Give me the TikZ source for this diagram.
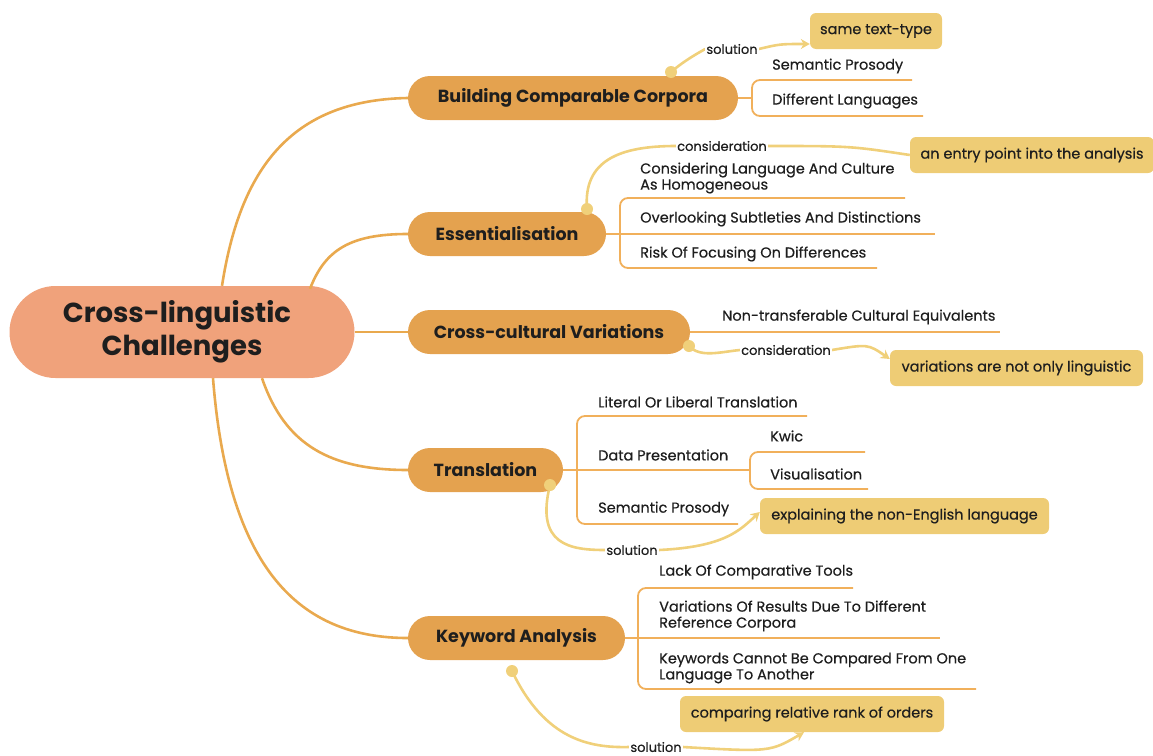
\documentclass[tikz,border=0pt]{standalone}
\usepackage{fontspec}
\setmainfont{Poppins}
\newfontfamily\medfont{Poppins}[FakeBold=0.5]
\usetikzlibrary{arrows.meta,calc}
\pgfdeclarelayer{bg}
\pgfsetlayers{bg,main}
\definecolor{rootc}{HTML}{F0A27B}
\definecolor{brc}{HTML}{E4A24F}
\definecolor{mainl}{HTML}{E9A94E}
\definecolor{subl}{HTML}{F1B05B}
\definecolor{relc}{HTML}{F0D07A}
\definecolor{boxc}{HTML}{EECC75}
\definecolor{ink}{HTML}{1E1E1E}
\tikzset{
  rootnode/.style={fill=rootc, rounded corners=46pt, minimum width=345pt, minimum height=92pt, inner sep=0pt, align=center, text=ink, font=\bfseries\fontsize{27.5}{33}\selectfont},
  branch/.style={fill=brc, rounded corners=22pt, minimum height=44pt, inner sep=0pt, text=ink, font=\bfseries\fontsize{17.5}{20}\selectfont},
  leaf/.style={anchor=west, inner sep=0pt, align=left, text=ink, font=\medfont\fontsize{14.5}{16}\selectfont},
  note/.style={fill=boxc, rounded corners=6pt, minimum height=36pt, inner sep=0pt, text=ink, font=\medfont\fontsize{14.5}{16}\selectfont},
  rel/.style={fill=white, inner sep=1pt, text=ink, font=\medfont\fontsize{13}{15}\selectfont},
  mainline/.style={draw=mainl, line width=2.6pt},
  subline/.style={draw=subl, line width=1.8pt, rounded corners=8pt},
  relline/.style={draw=relc, line width=2.6pt},
  relarrow/.style={relline, -{Stealth[length=9pt,width=10pt]}},
  dotc/.style={fill=relc}
}
\begin{document}
\begin{tikzpicture}[x=1pt,y=-1pt]
\useasboundingbox (0,0) rectangle (1153,755);
% nodes
\node[rootnode, text width=330pt, xshift=0pt] (R) at (182,332) {\hspace*{-10pt}Cross-linguistic\\Challenges};
\node[branch, minimum width=330pt] (b1) at (573,98) {Building Comparable Corpora};
\node[branch, minimum width=198pt] (b2) at (507,234) {Essentialisation};
\node[branch, minimum width=282pt] (b3) at (549,332) {Cross-cultural Variations};
\node[branch, minimum width=155pt] (b4) at (485.5,470) {Translation};
\node[branch, minimum width=217pt] (b5) at (516.5,638) {Keyword Analysis};
% root connectors
\draw[mainline] ([xshift=40pt]R.north) .. controls (240,170) and (290,100) .. (b1.west);
\draw[mainline] ([xshift=128pt,yshift=-3pt]R.north) .. controls (325,250) and (350,234) .. (b2.west);
\draw[mainline] (R.east) -- (b3.west);
\draw[mainline] ([xshift=80pt]R.south) .. controls (285,445) and (330,470) .. (b4.west);
\draw[mainline] ([xshift=31pt]R.south) .. controls (228,570) and (300,638) .. (b5.west);
% leaves of b1
\node[leaf] (l11) at (772,66) {Semantic Prosody};
\node[leaf] (l12) at (772,101) {Different Languages};
\draw[subline] (912,80) -- (752,80) -- (752,116) -- (923,116);
\draw[subline] (b1.east) -- (752,98);
% leaves of b2
\node[leaf] (l21) at (640,178) {Considering Language And Culture\\As Homogeneous};
\node[leaf] (l22) at (640,219) {Overlooking Subtleties And Distinctions};
\node[leaf] (l23) at (640,254) {Risk Of Focusing On Differences};
\draw[subline] (905,198) -- (620,198) -- (620,268) -- (877,268);
\draw[subline] (b2.east) -- (935,234);
% leaves of b3
\node[leaf] (l31) at (722,317) {Non-transferable Cultural Equivalents};
\draw[subline] (b3.east) -- (1000,332);
% leaves of b4
\node[leaf] (l41) at (598,402) {Literal Or Liberal Translation};
\node[leaf] (l42) at (598,455) {Data Presentation};
\node[leaf] (l43) at (598,509) {Semantic Prosody};
\node[leaf] (l421) at (770,436) {Kwic};
\node[leaf] (l422) at (770,474) {Visualisation};
\draw[subline] (807,416) -- (577,416) -- (577,524) -- (738,524);
\draw[subline] (b4.east) -- (750,470);
\draw[subline] (865,452) -- (750,452) -- (750,489) -- (868,489);
% leaves of b5
\node[leaf] (l51) at (659,572) {Lack Of Comparative Tools};
\node[leaf] (l52) at (659,616) {Variations Of Results Due To Different\\Reference Corpora};
\node[leaf] (l53) at (659,668) {Keywords Cannot Be Compared From One\\Language To Another};
\draw[subline] (853,588) -- (638,588) -- (638,689) -- (976,689);
\draw[subline] (b5.east) -- (940,638);
% notes
\node[note, minimum width=132pt] (n1) at (876,31) {same text-type};
\node[note, minimum width=244pt] (n2) at (1032,155) {an entry point into the analysis};
\node[note, minimum width=253pt] (n3) at (1016.5,368) {variations are not only linguistic};
\node[note, minimum width=289pt] (n4) at (904.5,516) {explaining the non-English language};
\node[note, minimum width=264pt] (n5) at (812,714) {comparing relative rank of orders};
% relation labels
\node[rel] (s1) at (732,49) {solution};
\node[rel] (c1) at (722,146) {consideration};
\node[rel] (c2) at (786,350) {consideration};
\node[rel] (s2) at (632,550) {solution};
\node[rel] (s3) at (656,747) {solution};
% relations
\coordinate (d1) at (671,72);
\coordinate (d2) at (587,209);
\coordinate (d3) at (689,346);
\coordinate (d4) at (550,485);
\coordinate (d5) at (512,671);
\begin{pgfonlayer}{bg}
\draw[relline] (d1) .. controls (685,60) and (700,52) .. (s1.west);
\draw[relarrow] (s1.east) .. controls (780,44) .. ([yshift=-13pt]n1.west);
\draw[relline] (d2) .. controls (583,160) and (620,146) .. (c1.west);
\draw[relline] (c1.east) .. controls (850,146) .. (n2.west);
\draw[relline] (d3) .. controls (700,358) and (720,352) .. (c2.west);
\draw[relarrow] (c2.east) .. controls (868,344) .. ([yshift=9pt]n3.west);
\draw[relline] (d4) .. controls (535,545) and (570,550) .. (s2.west);
\draw[relarrow] (s2.east) .. controls (725,547) and (740,530) .. ([yshift=4pt]n4.west);
\draw[relline] (d5) .. controls (545,740) and (590,748) .. (s3.west);
\draw[relarrow] (s3.east) .. controls (770,752) .. ([xshift=-8pt]n5.south);
\end{pgfonlayer}
\fill[dotc] (d1) circle (6pt);
\fill[dotc] (d2) circle (6pt);
\fill[dotc] (d3) circle (6pt);
\fill[dotc] (d4) circle (6pt);
\fill[dotc] (d5) circle (6pt);
\end{tikzpicture}
\end{document}
